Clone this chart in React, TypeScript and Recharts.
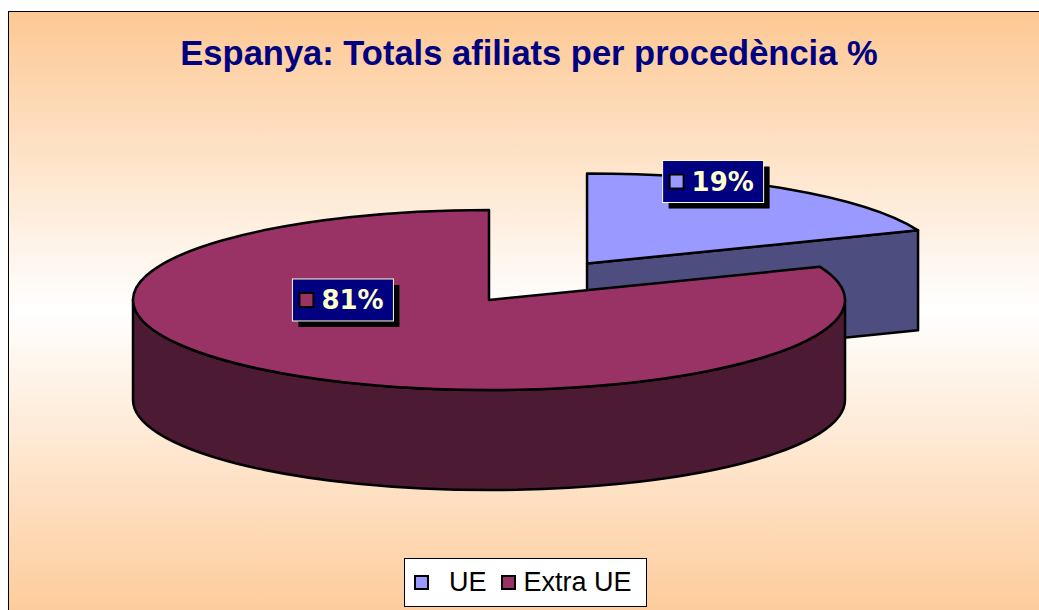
import { Cell, Legend, Pie, PieChart } from 'recharts';

const CATEGORIES = ['UE', 'Extra UE'];
const SHARES = [19, 81];

const TOP_COLORS = ['#9999ff', '#993366'];
const SIDE_COLORS = ['#4d4d80', '#4c1a33'];
const EXPLODE = [0.49, 0];

const TILT = 0.253; // ry / rx of the tilted disc
const DEPTH = 100;

const data = CATEGORIES.map((name, i) => ({ name, value: SHARES[i] }));
const total = SHARES.reduce((a, b) => a + b, 0);
// first slice ends at the top (90deg), drawn counter-clockwise
const START = 90 - (SHARES[0] / total) * 360;

const rad = (a: number) => (a * Math.PI) / 180;

// eslint-disable-next-line @typescript-eslint/no-explicit-any
function Slice3D(props: any) {
  const { cx, cy, outerRadius, startAngle, endAngle, midAngle, percent, index } = props;
  const rx = outerRadius;
  const ry = outerRadius * TILT;
  const e = EXPLODE[index] ?? 0;
  const ox = cx + e * rx * Math.cos(rad(midAngle));
  const oy = cy - e * ry * Math.sin(rad(midAngle));
  const p = (a: number, dy = 0) => `${ox + rx * Math.cos(rad(a))},${oy - ry * Math.sin(rad(a)) + dy}`;
  const a0 = Math.min(startAngle, endAngle);
  const a1 = Math.max(startAngle, endAngle);
  const large = a1 - a0 > 180 ? 1 : 0;

  const faces: string[] = [];
  // radial cut faces
  if (Math.cos(rad(a0)) > 0.001) faces.push(`M${ox},${oy} L${p(a0)} L${p(a0, DEPTH)} L${ox},${oy + DEPTH} Z`);
  if (Math.cos(rad(a1)) < -0.001) faces.push(`M${ox},${oy} L${p(a1)} L${p(a1, DEPTH)} L${ox},${oy + DEPTH} Z`);
  // visible outer wall (front half of the ellipse)
  for (let k = -1; k <= 1; k++) {
    const b0 = Math.max(a0, 180 + 360 * k);
    const b1 = Math.min(a1, 360 + 360 * k);
    if (b1 > b0) {
      faces.push(
        `M${p(b0)} A${rx},${ry} 0 0 0 ${p(b1)} L${p(b1, DEPTH)} A${rx},${ry} 0 0 1 ${p(b0, DEPTH)} Z`
      );
    }
  }
  const top = `M${ox},${oy} L${p(a0)} A${rx},${ry} 0 ${large} 0 ${p(a1)} Z`;

  const lx = ox + 0.68 * rx * Math.cos(rad(midAngle)) - 10;
  const ly = oy - 0.55 * ry * Math.sin(rad(midAngle)) - 41;
  const bw = 101;
  const bh = 42;
  const bx = lx - bw / 2;
  const by = ly - bh / 2;

  return (
    <g>
      {faces.map((d, i) => (
        <path key={i} d={d} fill={SIDE_COLORS[index]} stroke="#000" strokeWidth={2.5} strokeLinejoin="round" />
      ))}
      <path d={top} fill={TOP_COLORS[index]} stroke="#000" strokeWidth={2.5} strokeLinejoin="round" />
      <rect x={bx + 6} y={by + 6} width={bw} height={bh} fill="#000" />
      <rect x={bx} y={by} width={bw} height={bh} fill="#000080" stroke="#ffffcc" strokeWidth={1} />
      <rect x={bx + 7} y={ly - 7} width={14} height={14} fill={TOP_COLORS[index]} stroke="#000" strokeWidth={2} />
      <text
        x={bx + 29}
        y={ly + 9}
        fill="#ffffcc"
        fontFamily="'DejaVu Sans', Verdana, sans-serif"
        fontWeight="bold"
        fontSize={26}
      >
        {`${Math.round(percent * 100)}%`}
      </text>
    </g>
  );
}

const ITEM_GAPS = [
  { square: 9, text: 20 },
  { square: 14, text: 8 },
];

// eslint-disable-next-line @typescript-eslint/no-explicit-any
function LegendBox(props: any) {
  // eslint-disable-next-line @typescript-eslint/no-explicit-any
  const payload = [...(props?.payload ?? [])].sort(
    (a: any, b: any) => CATEGORIES.indexOf(a.value) - CATEGORIES.indexOf(b.value)
  );
  return (
    <div
      style={{
        boxSizing: 'border-box',
        width: 243,
        height: 49,
        border: '1px solid #000',
        background: '#fff',
        display: 'flex',
        alignItems: 'center',
        fontFamily: "'Liberation Sans', Arial, sans-serif",
        fontSize: 27,
        color: '#000',
      }}
    >
      {/* eslint-disable-next-line @typescript-eslint/no-explicit-any */}
      {payload.map((entry: any, i: number) => {
        const ci = CATEGORIES.indexOf(entry.value);
        return (
          <div key={entry.value} style={{ display: 'flex', alignItems: 'center' }}>
            <span
              style={{
                display: 'inline-block',
                boxSizing: 'border-box',
                width: 15,
                height: 15,
                marginLeft: ITEM_GAPS[i].square,
                background: TOP_COLORS[ci],
                border: '2px solid #000',
              }}
            />
            <span style={{ marginLeft: ITEM_GAPS[i].text, lineHeight: '27px' }}>{entry.value}</span>
          </div>
        );
      })}
    </div>
  );
}

export default function App() {
  return (
    <div style={{ position: 'fixed', left: 8, top: 11, width: 1031, height: 599, overflow: 'hidden' }}>
      <div
        style={{
          position: 'absolute',
          left: 0,
          top: 0,
          width: 1040,
          height: 620,
          border: '1px solid #000',
          background: 'linear-gradient(to bottom, #fdc894 0%, #ffffff 48%, #fdc894 100%)',
        }}
      >
        <div
          style={{
            position: 'absolute',
            left: 0,
            top: 24,
            width: 1040,
            textAlign: 'center',
            fontFamily: "'Liberation Sans', Arial, sans-serif",
            fontWeight: 'bold',
            fontSize: 34.5,
            lineHeight: '34px',
            color: '#000080',
          }}
        >
          Espanya: Totals afiliats per procedència %
        </div>
        <PieChart width={1040} height={620} margin={{ top: 0, right: 0, bottom: 0, left: 0 }}>
          <Pie
            data={data}
            dataKey="value"
            nameKey="name"
            cx={480}
            cy={288}
            outerRadius={356}
            startAngle={START}
            endAngle={START + 360}
            stroke="none"
            labelLine={false}
            label={Slice3D}
            isAnimationActive={false}
          >
            {data.map((d) => (
              <Cell key={d.name} fill="none" stroke="none" />
            ))}
          </Pie>
          <Legend
            content={<LegendBox />}
            wrapperStyle={{ left: 395, top: 546, width: 243, height: 49 }}
          />
        </PieChart>
      </div>
    </div>
  );
}
